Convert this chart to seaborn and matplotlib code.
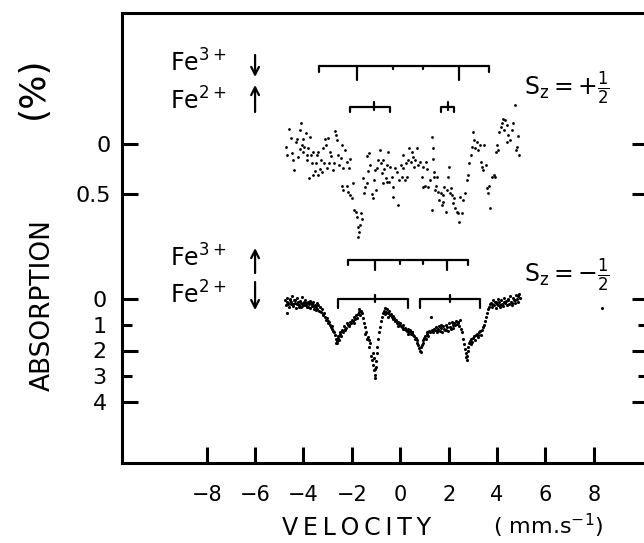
import matplotlib
matplotlib.use('Agg')
import matplotlib.pyplot as plt
import pandas as pd
import seaborn as sns

# upper spectrum, S_z = +1/2 : (velocity mm/s, absorption %)
upper_points = [
    (-4.72, 0.03), (-4.67, 0.11), (-4.59, -0.15), (-4.53, -0.06), (-4.49, 0.09),
    (-4.42, 0.16), (-4.38, 0.26), (-4.31, -0.02), (-4.27, -0.05), (-4.21, 0.13),
    (-4.15, -0.14), (-4.15, 0.05), (-4.12, -0.21), (-4.08, 0.01), (-4.03, -0.05),
    (-4.01, 0.08), (-3.96, 0.03), (-3.91, -0.11), (-3.87, 0.11), (-3.84, 0.16),
    (-3.80, 0.04), (-3.76, 0.34), (-3.73, -0.07), (-3.70, 0.11), (-3.66, 0.19),
    (-3.62, 0.08), (-3.59, 0.31), (-3.53, 0.27), (-3.48, 0.19), (-3.46, 0.11),
    (-3.41, 0.31), (-3.39, 0.08), (-3.32, 0.25), (-3.28, 0.16), (-3.24, 0.28),
    (-3.21, 0.04), (-3.15, 0.19), (-3.11, -0.05), (-3.07, 0.01), (-3.02, 0.24),
    (-2.97, -0.06), (-2.93, 0.19), (-2.90, 0.08), (-2.86, 0.12), (-2.79, 0.26),
    (-2.74, 0.19), (-2.70, -0.13), (-2.66, -0.09), (-2.63, -0.04), (-2.56, 0.11),
    (-2.52, 0.21), (-2.46, 0.14), (-2.42, 0.01), (-2.35, 0.24), (-2.29, 0.06),
    (-2.22, 0.18), (-2.11, 0.24), (-2.08, 0.15),
    (-2.42, 0.42), (-2.35, 0.46), (-2.22, 0.42), (-2.15, 0.48), (-2.08, 0.51),
    (-2.01, 0.54), (-1.94, 0.39), (-1.91, 0.66), (-1.83, 0.68), (-1.80, 0.73),
    (-1.76, 0.83), (-1.73, 0.93), (-1.69, 0.88), (-1.66, 0.81), (-1.62, 0.69),
    (-1.60, 0.75),
    (-1.53, 0.34), (-1.50, 0.49), (-1.46, 0.43), (-1.39, 0.12), (-1.36, 0.39),
    (-1.32, 0.27), (-1.28, 0.09), (-1.23, 0.21), (-1.18, 0.50), (-1.11, 0.54),
    (-1.09, 0.36), (-1.05, 0.26), (-1.00, 0.46), (-0.95, 0.24), (-0.91, 0.16),
    (-0.84, 0.06), (-0.81, 0.19), (-0.77, 0.29), (-0.73, 0.39), (-0.70, 0.16),
    (-0.66, 0.25), (-0.59, 0.34), (-0.56, 0.21), (-0.54, 0.38), (-0.49, 0.08),
    (-0.45, 0.38), (-0.43, 0.23), (-0.36, 0.33), (-0.32, 0.53), (-0.29, 0.43),
    (-0.22, 0.24), (-0.15, 0.28), (-0.08, 0.61), (-0.04, 0.36), (0.02, 0.21),
    (0.06, 0.33), (0.10, 0.24), (0.13, 0.11), (0.19, 0.36), (0.23, 0.19),
    (0.26, 0.33), (0.33, 0.16), (0.37, 0.04), (0.43, 0.18), (0.47, 0.08),
    (0.51, 0.13), (0.57, 0.23), (0.61, 0.16), (0.68, 0.04), (0.74, 0.21),
    (0.81, 0.18), (0.88, 0.33), (0.92, 0.43), (0.95, 0.23), (1.02, 0.42),
    (1.06, 0.18), (1.12, 0.25), (1.16, 0.43), (1.23, 0.36), (1.30, -0.07),
    (1.30, 0.66), (1.34, 0.04), (1.36, 0.15), (1.39, 0.28), (1.40, 0.33),
    (1.43, 0.46), (1.48, 0.42), (1.50, 0.33), (1.57, 0.48), (1.61, 0.56),
    (1.67, 0.49), (1.71, 0.61), (1.75, 0.58), (1.78, 0.51), (1.82, 0.43),
    (1.89, 0.68), (1.94, 0.46), (1.98, 0.33), (2.03, 0.23), (2.05, 0.49),
    (2.10, 0.44), (2.14, 0.51), (2.19, 0.59), (2.22, 0.54), (2.26, 0.64),
    (2.33, 0.68), (2.38, 0.69), (2.44, 0.78), (2.49, 0.53), (2.55, 0.69),
    (2.60, 0.56), (2.67, 0.49), (2.74, 0.36), (2.81, 0.31), (2.85, 0.19),
    (2.91, 0.11), (2.95, 0.03), (2.99, -0.12), (3.05, -0.04), (3.10, 0.04),
    (3.16, -0.02), (3.22, 0.06), (3.29, 0.01), (3.34, 0.18), (3.39, 0.23),
    (3.43, 0.26), (3.47, 0.01), (3.54, 0.21), (3.60, 0.44), (3.64, 0.49),
    (3.68, 0.42), (3.73, 0.64), (3.78, 0.33), (3.87, 0.31), (3.91, 0.33),
    (3.95, 0.08), (3.98, 0.01), (4.05, 0.06), (4.09, -0.12), (4.15, -0.17),
    (4.19, -0.21), (4.23, -0.25), (4.28, -0.14), (4.33, -0.24), (4.40, -0.19),
    (4.42, -0.02), (4.46, -0.09), (4.53, -0.04), (4.60, -0.14), (4.67, -0.21),
    (4.74, -0.39), (4.78, 0.06), (4.84, 0.03), (4.88, -0.08), (4.92, 0.11),
]

# lower spectrum, S_z = -1/2
lower_vel = [
    -4.76, -4.72, -4.68, -4.65, -4.61, -4.57, -4.53, -4.50, -4.46, -4.42,
    -4.38, -4.34, -4.30, -4.26, -4.22, -4.18, -4.14, -4.10, -4.06, -4.02,
    -3.98, -3.94, -3.90, -3.86, -3.82, -3.78, -3.74, -3.70, -3.66, -3.62,
    -3.58, -3.54, -3.50, -3.46, -3.42, -3.38, -3.34, -3.30,
    -3.26, -3.22, -3.18, -3.14, -3.10, -3.06, -3.02, -2.98, -2.94, -2.90,
    -2.86, -2.82, -2.78, -2.74, -2.70, -2.66, -2.62, -2.58,
    -2.60, -2.56, -2.52, -2.48, -2.44, -2.40, -2.36, -2.32, -2.28, -2.24,
    -2.20, -2.16, -2.12, -2.08, -2.04, -2.00, -1.96, -1.92, -1.88, -1.84,
    -1.80, -1.76, -1.72, -1.68, -1.64, -1.60,
    -1.52, -1.48, -1.44, -1.40, -1.36, -1.32, -1.28, -1.24, -1.20, -1.16,
    -1.12, -1.10, -1.08, -1.06, -1.04, -1.02, -1.00, -0.98, -0.95, -0.92,
    -0.88, -0.84, -0.80,
    -0.76, -0.72, -0.68, -0.64, -0.60, -0.56, -0.52, -0.48, -0.44, -0.40,
    -0.36, -0.32, -0.28, -0.24, -0.20, -0.16, -0.12, -0.08, -0.04, 0.00,
    0.04, 0.08, 0.12, 0.16, 0.20, 0.24, 0.28, 0.32, 0.36, 0.40,
    0.44, 0.48, 0.52, 0.56, 0.60, 0.64, 0.68, 0.72, 0.76, 0.80,
    0.84,
    0.88, 0.92, 0.96, 1.00, 1.04, 1.08, 1.12, 1.16, 1.20, 1.24,
    1.28, 1.32, 1.36, 1.40, 1.44, 1.48, 1.52, 1.56, 1.60, 1.64,
    1.68, 1.72, 1.76, 1.80, 1.84, 1.88, 1.92, 1.96, 2.00, 2.04,
    2.08, 2.12, 2.16, 2.20, 2.24, 2.28, 2.32, 2.36, 2.40, 2.44,
    2.48, 2.52,
    2.56, 2.60, 2.64, 2.68, 2.72, 2.74, 2.76, 2.78, 2.82, 2.86,
    2.90, 2.94, 2.98, 3.02, 3.06, 3.10, 3.14, 3.18, 3.22, 3.26,
    3.30, 3.34, 3.38, 3.42, 3.46, 3.50, 3.54, 3.58, 3.62, 3.66,
    3.70,
    3.74, 3.78, 3.82, 3.86, 3.90, 3.94, 3.98, 4.02, 4.06, 4.10,
    4.14, 4.18, 4.22, 4.26, 4.30, 4.34, 4.38, 4.42, 4.46, 4.50,
    4.54, 4.58, 4.62, 4.66, 4.70, 4.74, 4.78, 4.82, 4.86, 4.90,
    4.94,
    -4.67, 8.35,
]
lower_abs = [
    0.05, 0.25, -0.05, 0.15, 0.30, 0.00, 0.20, 0.10, -0.10, 0.28,
    0.05, 0.15, 0.35, -0.02, 0.12, 0.22, 0.08, 0.30, -0.08, 0.18,
    0.25, 0.05, 0.15, 0.32, 0.10, 0.20, 0.35, 0.15, 0.28, 0.10,
    0.40, 0.22, 0.30, 0.15, 0.38, 0.25, 0.45, 0.30,
    0.50, 0.40, 0.62, 0.55, 0.70, 0.80, 0.75, 0.92, 0.88, 1.02,
    1.10, 1.05, 1.25, 1.30, 1.40, 1.55, 1.62, 1.50,
    1.72, 1.45, 1.58, 1.35, 1.42, 1.20, 1.30, 1.05, 1.15, 1.12,
    0.95, 1.00, 1.02, 0.88, 0.92, 0.80, 0.85, 0.70, 0.78, 0.62,
    0.72, 0.58, 0.50, 0.62, 0.45, 0.55,
    0.75, 0.95, 1.10, 1.30, 1.55, 1.48, 1.85, 1.70, 2.20, 2.35,
    2.55, 2.30, 2.75, 2.95, 3.05, 2.65, 2.40, 2.10, 1.85, 1.55,
    1.30, 1.10, 0.85,
    0.70, 0.55, 0.45, 0.35, 0.50, 0.40, 0.55, 0.48, 0.62, 0.58,
    0.70, 0.65, 0.78, 0.72, 0.85, 0.80, 0.92, 0.88, 1.00, 0.95,
    1.05, 1.10, 1.02, 1.15, 1.12, 1.20, 1.25, 1.18, 1.30, 1.22,
    1.35, 1.28, 1.40, 1.45, 1.55, 1.50, 1.70, 1.80, 1.90, 2.00,
    1.85,
    1.80, 1.60, 1.70, 1.50, 1.45, 1.55, 1.35, 1.42, 1.25, 1.30,
    0.70, 1.20, 1.28, 1.15, 1.22, 1.10, 1.30, 1.18, 1.05, 1.25,
    1.12, 1.30, 1.05, 1.15, 1.20, 1.00, 1.10, 1.25, 0.95, 1.08,
    1.15, 0.90, 1.02, 1.12, 0.92, 1.00, 0.85, 0.98, 0.88, 1.05,
    0.80, 1.15,
    1.30, 1.55, 1.75, 1.95, 2.10, 2.35, 2.20, 2.00, 1.85, 1.70,
    1.62, 1.55, 1.68, 1.50, 1.45, 1.58, 1.40, 1.35, 1.48, 1.30,
    1.25, 1.38, 1.20, 1.10, 1.00, 0.85, 0.70, 0.55, 0.40, 0.30,
    0.20,
    0.15, 0.30, 0.05, 0.22, 0.10, 0.35, 0.18, 0.00, 0.25, 0.12,
    0.30, 0.05, 0.20, 0.28, -0.05, 0.15, 0.08, 0.25, 0.00, 0.18,
    -0.10, 0.10, 0.22, -0.05, 0.05, 0.15, -0.15, 0.00, 0.10, -0.20,
    -0.05,
    0.55, 0.35,
]
# further scattered points of the lower spectrum
lower_extra = [
    (-4.70, 0.12), (-4.62, 0.18), (-4.55, 0.05), (-4.44, 0.20), (-4.36, 0.02),
    (-4.28, 0.18), (-4.20, 0.30), (-4.12, 0.15), (-4.04, 0.28), (-3.96, 0.12),
    (-3.88, 0.22), (-3.80, 0.30), (-3.72, 0.08), (-3.64, 0.18), (-3.56, 0.28),
    (-3.48, 0.42), (-3.20, 0.60), (-3.00, 0.85), (-2.80, 1.15), (-2.64, 1.70),
    (-2.50, 1.30), (-2.30, 1.20), (-2.10, 1.05), (-1.90, 0.95), (-1.70, 0.40),
    (-1.45, 1.35), (-1.30, 1.60), (-1.14, 2.10), (-1.06, 2.70), (-0.62, 0.60),
    (-0.50, 0.70), (-0.30, 0.75), (-0.10, 1.05), (0.10, 1.15), (0.30, 1.35),
    (0.50, 1.30), (0.70, 1.60), (0.84, 2.05), (1.10, 1.30), (1.50, 1.25),
    (1.70, 1.00), (1.90, 1.20), (2.20, 0.95), (2.40, 0.95), (2.70, 2.25),
    (2.92, 1.75), (3.20, 1.40), (3.80, 0.20), (3.96, 0.10), (4.12, 0.22),
    (4.28, 0.10), (4.44, 0.05), (4.60, 0.15), (4.76, 0.05), (4.88, -0.10),
]

vel_ticks = [-8, -6, -4, -2, 0, 2, 4, 6, 8]
upper_ticks = [0, 0.5]
upper_tick_labels = ['0', '0.5']
lower_ticks = [0, 1, 2, 3, 4]
lower_tick_labels = ['0', '1', '2', '3', '4']

# line positions of the stick diagrams (mm/s)
upper_fe3 = [-3.34, -1.79, -0.30, 0.94, 2.41, 3.65]
upper_fe2 = [(-2.08, -1.10, -0.43), (1.70, 1.96, 2.24)]
lower_fe3 = [-2.15, -1.06, 0.0, 0.94, 1.92, 2.80]
lower_fe2 = [(-2.59, -1.06, 0.34), (0.80, 2.07, 3.31)]


def fe3_comb(ax, pos, y, d_end, d_long, d_short):
    ax.plot([pos[0], pos[-1]], [y, y], color='black', lw=1.6)
    for i, p in enumerate(pos):
        if i in (0, len(pos) - 1):
            d = d_end
        elif i in (1, len(pos) - 2):
            d = d_long
        else:
            d = d_short
        ax.plot([p, p], [y, y + d], color='black', lw=1.6)


def fe2_bracket(ax, trio, y, d_end, up, down):
    lo, mid, hi = trio
    ax.plot([lo, lo, hi, hi], [y + d_end, y, y, y + d_end], color='black', lw=1.6)
    ax.plot([mid, mid], [y - up, y + down], color='black', lw=1.6)


def arrow(ax, x, y_tail, y_head):
    ax.annotate('', xy=(x, y_head), xytext=(x, y_tail),
                arrowprops=dict(arrowstyle='->, head_length=0.55, head_width=0.28',
                                lw=1.6, color='black', shrinkA=0, shrinkB=0))


sns.set_style('white')
plt.rcParams['font.family'] = ['DejaVu Sans']
plt.rcParams['mathtext.default'] = 'regular'
plt.rcParams['text.color'] = 'black'
plt.rcParams['xtick.color'] = 'black'
plt.rcParams['ytick.color'] = 'black'
plt.rcParams['axes.labelcolor'] = 'black'

W, H = 644, 543
fig = plt.figure(figsize=(W / 100, H / 100), dpi=100)
rect = [122 / W, (H - 463) / H, (648 - 122) / W, (463 - 13) / H]
ax = fig.add_axes(rect)
ax2 = fig.add_axes(rect, sharex=ax)

extra_vel = [p[0] for p in lower_extra]
extra_abs = [p[1] for p in lower_extra]
df_low = pd.DataFrame({'velocity': lower_vel + extra_vel,
                       'absorption': lower_abs + extra_abs})
df_up = pd.DataFrame(upper_points, columns=['velocity', 'absorption'])

sns.scatterplot(data=df_low, x='velocity', y='absorption', ax=ax,
                color='black', s=5, linewidth=0, legend=False)
sns.scatterplot(data=df_up, x='velocity', y='absorption', ax=ax2,
                color='black', s=4, linewidth=0, legend=False)

ax.set_xlim(-11.5, 10.24)
ax.set_ylim(6.37, -11.11)
ax2.set_ylim(3.19, -1.31)

for a in (ax, ax2):
    a.set_xlabel('')
    a.set_ylabel('')

# frame + lower axis
for s in ax.spines.values():
    s.set_linewidth(2.2)
    s.set_color('black')
ax.set_xticks(vel_ticks)
ax.set_xticklabels([str(v).replace('-', '\u2212') for v in vel_ticks])
ax.set_yticks(lower_ticks)
ax.set_yticklabels(lower_tick_labels)
ax.tick_params(axis='x', direction='in', length=11.5, width=2.2, labelsize=15,
               pad=16, top=False, bottom=True)
ax.tick_params(axis='y', direction='in', length=11.5, width=2.2, labelsize=16,
               pad=11, left=True, right=True)
for i in (1, 3):
    t = ax.yaxis.get_major_ticks()[i]
    t.tick1line.set_markersize(7)
    t.tick2line.set_markersize(7)

# upper spectrum axis
ax2.patch.set_visible(False)
for s in ax2.spines.values():
    s.set_visible(False)
ax2.tick_params(axis='x', bottom=False, labelbottom=False)
ax2.set_yticks(upper_ticks)
ax2.set_yticklabels(upper_tick_labels)
ax2.tick_params(axis='y', direction='in', length=11.5, width=2.2, labelsize=16,
                pad=8, left=True, right=True)

# stick diagrams
fe3_comb(ax2, upper_fe3, -0.78, 0.06, 0.14, 0.03)
for trio in upper_fe2:
    fe2_bracket(ax2, trio, -0.37, 0.05, 0.05, 0.03)
fe3_comb(ax, lower_fe3, -1.51, 0.19, 0.38, 0.15)
for trio in lower_fe2:
    fe2_bracket(ax, trio, 0.0, 0.35, 0.16, 0.12)

# labels inside
ax2.text(-9.5, -0.72, r'Fe$^{3+}$', fontsize=17, va='baseline', ha='left')
ax2.text(-9.5, -0.34, r'Fe$^{2+}$', fontsize=17, va='baseline', ha='left')
ax.text(-9.5, -1.24, r'Fe$^{3+}$', fontsize=17, va='baseline', ha='left')
ax.text(-9.5, 0.16, r'Fe$^{2+}$', fontsize=17, va='baseline', ha='left')
arrow(ax2, -6.0, -0.89, -0.67)
arrow(ax2, -6.0, -0.32, -0.59)
arrow(ax, -6.0, -1.01, -1.98)
arrow(ax, -6.0, -0.66, 0.43)
ax2.text(5.12, -0.49, r'$S_z = +\frac{1}{2}$', fontsize=17, va='baseline', ha='left')
ax.text(5.1, -0.66, r'$S_z = -\frac{1}{2}$', fontsize=17, va='baseline', ha='left')

# axis titles
fig.text(43 / W, 1 - 305 / H, 'ABSORPTION', rotation=90, ha='center', va='center',
         fontsize=19)
fig.text(33 / W, 1 - 88 / H, '(%)', rotation=90, ha='center', va='center',
         fontsize=26)
fig.text(356 / W, 1 - 528 / H, 'V\u2009E\u2009L\u2009O\u2009C\u2009I\u2009T\u2009Y',
         ha='center', va='center', fontsize=17)
fig.text(548 / W, 1 - 526 / H, r'( mm.s$^{-1}$)', ha='center', va='center',
         fontsize=16)

fig.savefig('out.png', dpi=100)
